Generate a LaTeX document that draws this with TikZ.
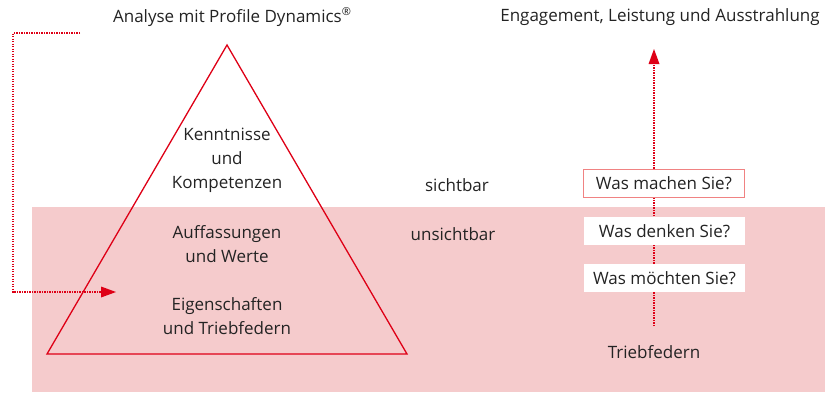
\documentclass[tikz,border=0pt]{standalone}
\usepackage{fontspec}
\setmainfont{Open Sans}
\usetikzlibrary{arrows.meta}
\definecolor{pinkbg}{RGB}{245,203,204}
\definecolor{redline}{RGB}{222,0,22}
\definecolor{boxborder}{RGB}{240,130,130}
\definecolor{txt}{RGB}{35,35,35}
\tikzset{
  lbl/.style={font=\fontsize{17}{24}\selectfont, text=txt, align=center, inner sep=0pt},
  qbox/.style={lbl, fill=white, minimum width=161pt, minimum height=28pt},
  dotarrow/.style={draw=redline, line width=1.2pt, dash pattern=on 1.3pt off 1.2pt, -{Triangle[length=15pt,width=11pt,fill=redline,line width=0pt]}},
}
\begin{document}
\begin{tikzpicture}[x=1pt,y=-1pt]
\useasboundingbox (0,0) rectangle (825,392);
\fill[pinkbg] (32,207) rectangle (825,392);
% triangle
\coordinate (apex) at (227,45);
\coordinate (bl) at (47,354);
\coordinate (br) at (407,354);
\draw[redline, line width=1.3pt, line join=miter] (apex) -- (bl) -- (br) -- cycle;
% titles
\node[lbl] (t1) at (232,17) {Analyse mit Profile Dynamics\raisebox{0.45em}{\fontsize{11}{11}\selectfont ®}};
\node[lbl] (t2) at (660,17) {Engagement, Leistung und Ausstrahlung};
% pyramid texts
\node[lbl] (k) at (227,160) {Kenntnisse\\und\\Kompetenzen};
\node[lbl] (a) at (227,244) {Auffassungen\\und Werte};
\node[lbl] (e) at (227,316) {Eigenschaften\\und Triebfedern};
\node[lbl] (s) at (457,185) {sichtbar};
\node[lbl] (u) at (453,234) {unsichtbar};
% left dotted connector
\coordinate (l0) at (80,33);
\coordinate (l1) at (13,33);
\coordinate (l2) at (13,292);
\coordinate (l3) at (116,292);
\draw[dotarrow] (l0) -- (l1) -- (l2) -- (l3);
% right arrow
\node[lbl] (tf) at (654,352) {Triebfedern};
\coordinate (rtop) at (654,49);
\coordinate (rbot) at (654,326);
\draw[dotarrow] (rbot) -- (rtop);
% question boxes
\node[qbox, draw=boxborder, line width=0.8pt] (q1) at (664,183) {Was machen Sie?};
\node[qbox] (q2) at (664.5,231) {Was denken Sie?};
\node[qbox] (q3) at (664.5,278) {Was möchten Sie?};
\end{tikzpicture}
\end{document}
